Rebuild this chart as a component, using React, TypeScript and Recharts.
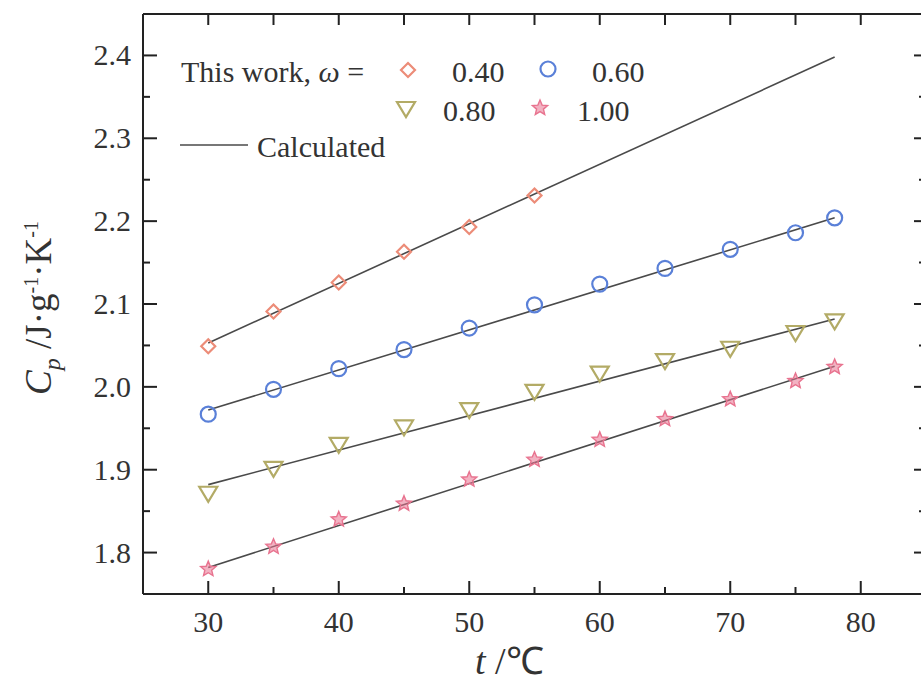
import { ComposedChart, Line, Scatter, XAxis, YAxis } from 'recharts'

const temps = [30, 35, 40, 45, 50, 55, 60, 65, 70, 75, 78]
const cp040 = [2.049, 2.091, 2.126, 2.163, 2.193, 2.231]
const cp060 = [1.967, 1.997, 2.022, 2.045, 2.071, 2.099, 2.124, 2.143, 2.166, 2.186, 2.204]
const cp080 = [1.871, 1.901, 1.930, 1.951, 1.972, 1.994, 2.016, 2.031, 2.046, 2.065, 2.079]
const cp100 = [1.780, 1.807, 1.840, 1.859, 1.888, 1.912, 1.936, 1.961, 1.985, 2.007, 2.024]

const calcT = [30, 78]
const calc040 = [2.053, 2.398]
const calc060 = [1.972, 2.204]
const calc080 = [1.882, 2.082]
const calc100 = [1.782, 2.025]

const xTicks = [25, 30, 35, 40, 45, 50, 55, 60, 65, 70, 75, 80, 85]
const yTicks = [1.75, 1.8, 1.85, 1.9, 1.95, 2.0, 2.05, 2.1, 2.15, 2.2, 2.25, 2.3, 2.35, 2.4, 2.45]

const pts = (ys: number[], xs: number[] = temps) => ys.map((y, i) => ({ t: xs[i], cp: y }))

const FONT = '"Liberation Serif", "Times New Roman", serif'
const AXIS = '#222'
const C_DIA = '#ec8c78'
const C_CIR = '#5a80d8'
const C_TRI = '#b3ab66'
const C_STAR = '#e8738f'

const diamond = (cx: number, cy: number) => (
  <path d={`M${cx},${cy - 7} L${cx + 7},${cy} L${cx},${cy + 7} L${cx - 7},${cy} Z`} fill="none" stroke={C_DIA} strokeWidth={2.2} />
)
const circle = (cx: number, cy: number) => <circle cx={cx} cy={cy} r={7.5} fill="none" stroke={C_CIR} strokeWidth={2.2} />
const triDown = (cx: number, cy: number) => (
  <path d={`M${cx - 9},${cy - 7} L${cx + 9},${cy - 7} L${cx},${cy + 8} Z`} fill="none" stroke={C_TRI} strokeWidth={2.2} />
)
const star = (cx: number, cy: number) => {
  let d = ''
  for (let i = 0; i < 10; i++) {
    const r = i % 2 === 0 ? 8 : 3.6
    const a = -Math.PI / 2 + (i * Math.PI) / 5
    d += `${i === 0 ? 'M' : 'L'}${cx + r * Math.cos(a)},${cy + r * Math.sin(a)} `
  }
  return <path d={d + 'Z'} fill={C_STAR} fillOpacity={0.55} stroke={C_STAR} strokeWidth={1.4} />
}

const isMajorX = (v: number) => v % 10 === 0 && v >= 30 && v <= 80
const isMajorY = (v: number) => Math.round(v * 100) % 10 === 0 && v >= 1.79 && v <= 2.41

function BottomTick({ x, y, payload }: any) {
  const major = isMajorX(payload.value)
  return (
    <g>
      <line x1={x} x2={x} y1={y} y2={y - (major ? 13 : 7)} stroke={AXIS} strokeWidth={2} />
      {major && (
        <text x={x} y={y + 38} textAnchor="middle" fontFamily={FONT} fontSize={30} fill="#333">
          {payload.value}
        </text>
      )}
    </g>
  )
}

function TopTick({ x, y }: any) {
  return <line x1={x} x2={x} y1={y} y2={y + 11} stroke={AXIS} strokeWidth={2} />
}

function LeftTick({ x, y, payload }: any) {
  const major = isMajorY(payload.value)
  return (
    <g>
      <line x1={x} x2={x + (major ? 14 : 7)} y1={y} y2={y} stroke={AXIS} strokeWidth={2} />
      {major && (
        <text x={x - 12} y={y + 10} textAnchor="end" fontFamily={FONT} fontSize={30} fill="#333">
          {payload.value.toFixed(1)}
        </text>
      )}
    </g>
  )
}

function RightTick({ x, y, payload }: any) {
  const major = isMajorY(payload.value)
  return <line x1={x} x2={x - (major ? 12 : 7)} y1={y} y2={y} stroke={AXIS} strokeWidth={2} />
}

const txt = { position: 'absolute' as const, fontFamily: FONT, color: '#333', whiteSpace: 'nowrap' as const, lineHeight: 1 }

export default function App() {
  return (
    <div style={{ position: 'absolute', left: 0, top: 0, width: 921, height: 683, overflow: 'hidden', background: '#fff' }}>
      <ComposedChart width={940} height={683} margin={{ top: 13, left: 142, right: 13, bottom: 88 }}>
        <XAxis
          dataKey="t"
          type="number"
          domain={[25, 85]}
          ticks={xTicks}
          height={1}
          tickSize={0}
          tickMargin={0}
          tick={<BottomTick />}
          axisLine={{ stroke: AXIS, strokeWidth: 2 }}
          allowDataOverflow
        />
        <XAxis
          xAxisId="top"
          orientation="top"
          dataKey="t"
          type="number"
          domain={[25, 85]}
          ticks={xTicks}
          height={1}
          tickSize={0}
          tickMargin={0}
          tick={<TopTick />}
          axisLine={{ stroke: AXIS, strokeWidth: 2 }}
          allowDataOverflow
        />
        <YAxis
          dataKey="cp"
          type="number"
          domain={[1.75, 2.45]}
          ticks={yTicks}
          width={1}
          tickSize={0}
          tickMargin={0}
          tick={<LeftTick />}
          axisLine={{ stroke: AXIS, strokeWidth: 2 }}
          allowDataOverflow
        />
        <YAxis
          yAxisId="right"
          orientation="right"
          type="number"
          domain={[1.75, 2.45]}
          ticks={yTicks}
          width={1}
          tickSize={0}
          tickMargin={0}
          tick={<RightTick />}
          axisLine={{ stroke: AXIS, strokeWidth: 2 }}
          allowDataOverflow
        />
        <Line data={pts(calc040, calcT)} dataKey="cp" type="linear" stroke="#4a4a4a" strokeWidth={1.6} dot={false} isAnimationActive={false} />
        <Line data={pts(calc060, calcT)} dataKey="cp" type="linear" stroke="#4a4a4a" strokeWidth={1.6} dot={false} isAnimationActive={false} />
        <Line data={pts(calc080, calcT)} dataKey="cp" type="linear" stroke="#4a4a4a" strokeWidth={1.6} dot={false} isAnimationActive={false} />
        <Line data={pts(calc100, calcT)} dataKey="cp" type="linear" stroke="#4a4a4a" strokeWidth={1.6} dot={false} isAnimationActive={false} />
        <Scatter data={pts(cp040)} dataKey="cp" shape={(p: any) => diamond(p.cx, p.cy)} isAnimationActive={false} />
        <Scatter data={pts(cp060)} dataKey="cp" shape={(p: any) => circle(p.cx, p.cy)} isAnimationActive={false} />
        <Scatter data={pts(cp080)} dataKey="cp" shape={(p: any) => triDown(p.cx, p.cy)} isAnimationActive={false} />
        <Scatter data={pts(cp100)} dataKey="cp" shape={(p: any) => star(p.cx, p.cy)} isAnimationActive={false} />
      </ComposedChart>

      {/* legend */}
      <div style={{ ...txt, left: 181, top: 57, fontSize: 30 }}>
        This work, <i>ω</i> =
      </div>
      <svg style={{ position: 'absolute', left: 0, top: 0 }} width={921} height={683} pointerEvents="none">
        {diamond(408, 70)}
        {circle(548, 69)}
        {triDown(406, 109)}
        {star(540, 108)}
        <line x1={180} x2={248} y1={145} y2={145} stroke="#4a4a4a" strokeWidth={1.6} />
      </svg>
      <div style={{ ...txt, left: 452, top: 57, fontSize: 30 }}>0.40</div>
      <div style={{ ...txt, left: 592, top: 57, fontSize: 30 }}>0.60</div>
      <div style={{ ...txt, left: 443, top: 96, fontSize: 30 }}>0.80</div>
      <div style={{ ...txt, left: 577, top: 96, fontSize: 30 }}>1.00</div>
      <div style={{ ...txt, left: 257, top: 132, fontSize: 30 }}>Calculated</div>

      {/* axis titles */}
      <div style={{ ...txt, left: 475, top: 642, fontSize: 38 }}>
        <i>t</i> /℃
      </div>
      <div
        style={{
          ...txt,
          left: 42,
          top: 308,
          fontSize: 37,
          transform: 'translate(-50%, -50%) rotate(-90deg)',
        }}
      >
        <i>C</i>
        <sub style={{ fontSize: 24, fontStyle: 'italic' }}>p</sub> /J·g<sup style={{ fontSize: 20 }}>-1</sup>·K<sup style={{ fontSize: 20 }}>-1</sup>
      </div>
    </div>
  )
}
